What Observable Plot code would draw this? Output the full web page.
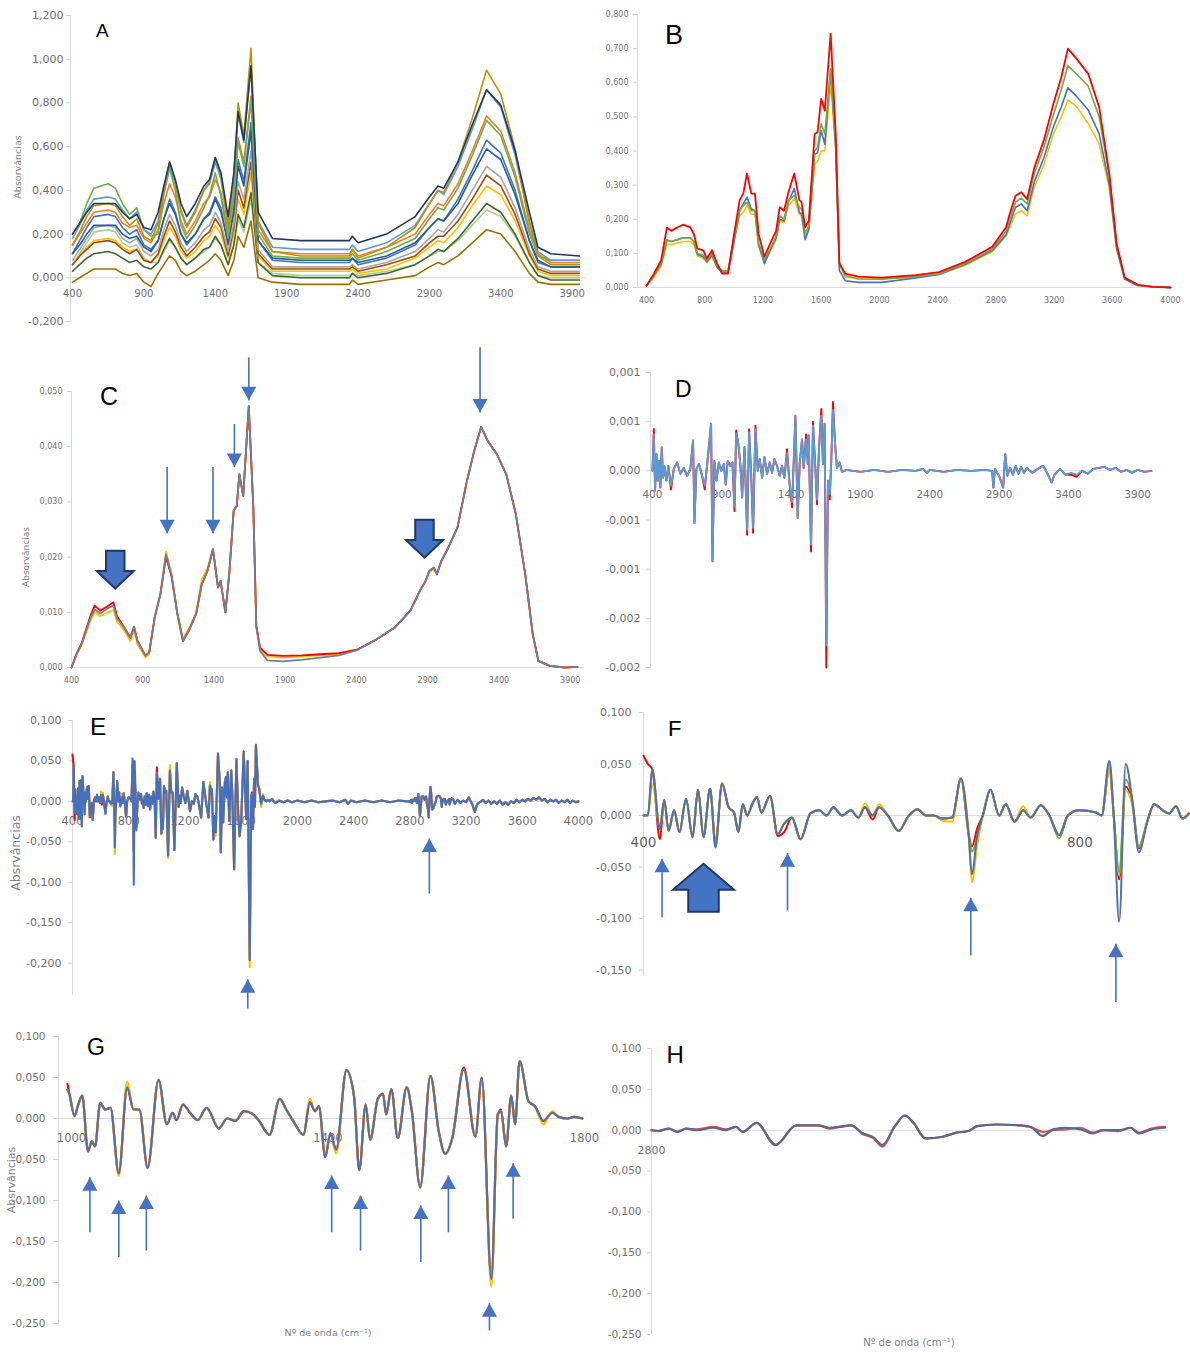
<!DOCTYPE html>
<html><head><meta charset="utf-8">
<script src="https://cdn.jsdelivr.net/npm/d3@7"></script>
<script src="https://cdn.jsdelivr.net/npm/@observablehq/plot@0.6"></script>
<style>
html,body{margin:0;padding:0;background:#fff;}
#root{position:relative;width:1190px;height:1353px;overflow:hidden;background:#fff;}
.panel{position:absolute;overflow:visible;}
.letter{position:absolute;font-family:"Liberation Sans",Arial,sans-serif;color:#000;line-height:1;white-space:nowrap;}
.title{position:absolute;font-family:"DejaVu Sans",sans-serif;color:#7f7f7f;white-space:nowrap;line-height:1;transform:translate(-50%,-50%);}
.title.rot{transform:translate(-50%,-50%) rotate(-90deg);}
</style></head><body><div id="root"></div>
<script>
// ---------------- Panel A : raw spectra ----------------
const aWn = [400,450,500,550,650,700,750,800,850,900,950,1000,1040,1080,1120,1160,1200,1260,1320,1360,1400,1440,1490,1530,1560,1600,1650,1700,1800,2000,2340,2360,2400,2600,2800,2900,2960,3000,3100,3200,3300,3400,3500,3600,3660,3750,3950];
const aS1 = [0.20,0.25,0.34,0.41,0.43,0.41,0.34,0.29,0.32,0.22,0.19, 0.20,0.38,0.50,0.40,0.24,0.18,0.24,0.32,0.38,0.48, 0.37,0.18,0.37,0.62,0.51,0.81,0.20,0.10,0.09,0.09, 0.11,0.08,0.12,0.18,0.27,0.32,0.31,0.41,0.56,0.72, 0.65,0.46,0.20,0.10,0.08,0.08];
const aS2 = [0.20,0.25,0.30,0.34,0.34,0.34,0.30,0.27,0.29,0.23,0.22, 0.30,0.42,0.53,0.45,0.34,0.28,0.34,0.42,0.45,0.55, 0.48,0.28,0.48,0.76,0.63,0.97,0.30,0.18,0.17,0.17, 0.19,0.16,0.20,0.28,0.37,0.42,0.41,0.53,0.70,0.86, 0.79,0.58,0.30,0.14,0.11,0.10];
const aS3 = [-0.02,0.00,0.02,0.04,0.04,0.04,0.02,0.01,0.02,-0.02,-0.04, 0.02,0.06,0.10,0.08,0.03,0.01,0.03,0.06,0.08,0.11, 0.08,0.01,0.08,0.19,0.14,0.26,0.00,-0.02,-0.03,-0.03, -0.01,-0.03,-0.01,0.01,0.05,0.07,0.06,0.10,0.16,0.22, 0.20,0.12,0.02,-0.02,-0.03,-0.03];
const aS4 = [0.03,0.06,0.09,0.11,0.12,0.11,0.09,0.07,0.08,0.05,0.04, 0.07,0.13,0.18,0.14,0.09,0.06,0.09,0.13,0.14,0.19, 0.15,0.06,0.15,0.29,0.23,0.39,0.07,0.01,0.00,0.00, 0.02,0.00,0.02,0.06,0.10,0.13,0.12,0.18,0.26,0.34, 0.30,0.20,0.07,0.01,-0.01,-0.01];
const aS5 = [0.06,0.10,0.14,0.17,0.18,0.17,0.14,0.12,0.13,0.08,0.07, 0.10,0.17,0.23,0.19,0.12,0.09,0.12,0.17,0.19,0.24, 0.20,0.09,0.20,0.36,0.29,0.48,0.10,0.03,0.03,0.03, 0.04,0.02,0.04,0.09,0.14,0.17,0.16,0.23,0.33,0.42, 0.38,0.26,0.10,0.03,0.01,0.01];
const aS6 = [0.11,0.17,0.23,0.28,0.29,0.28,0.23,0.20,0.22,0.15,0.13, 0.17,0.27,0.36,0.30,0.20,0.15,0.20,0.27,0.30,0.37, 0.32,0.15,0.32,0.54,0.44,0.71,0.17,0.08,0.07,0.07, 0.09,0.06,0.09,0.15,0.23,0.27,0.26,0.36,0.49,0.63, 0.57,0.40,0.17,0.07,0.05,0.05];
const aS7 = [0.15,0.20,0.25,0.30,0.31,0.30,0.25,0.23,0.24,0.18,0.16, 0.22,0.34,0.43,0.37,0.26,0.20,0.26,0.34,0.37,0.45, 0.39,0.20,0.39,0.64,0.53,0.83,0.22,0.12,0.11,0.11, 0.13,0.10,0.14,0.20,0.29,0.34,0.33,0.43,0.58,0.74, 0.67,0.48,0.22,0.11,0.07,0.07];
const aS8 = [0.08,0.13,0.18,0.23,0.24,0.23,0.18,0.16,0.18,0.12,0.10, 0.13,0.22,0.29,0.24,0.16,0.12,0.16,0.22,0.24,0.30, 0.25,0.12,0.25,0.44,0.36,0.58,0.13,0.05,0.05,0.05, 0.06,0.04,0.07,0.12,0.18,0.22,0.21,0.29,0.40,0.51, 0.46,0.32,0.13,0.05,0.03,0.03];
const aS9 = [0.18,0.24,0.31,0.36,0.37,0.36,0.31,0.27,0.30,0.22,0.20, 0.26,0.40,0.51,0.43,0.31,0.24,0.31,0.40,0.43,0.53, 0.45,0.24,0.45,0.75,0.62,0.97,0.26,0.14,0.13,0.13, 0.15,0.12,0.16,0.24,0.34,0.40,0.38,0.51,0.68,0.86, 0.78,0.56,0.26,0.12,0.08,0.08];
const aS10 = [0.06,0.10,0.13,0.16,0.17,0.16,0.13,0.11,0.13,0.08,0.07, 0.11,0.19,0.26,0.21,0.14,0.10,0.14,0.19,0.21,0.27, 0.23,0.10,0.23,0.40,0.32,0.53,0.11,0.04,0.04,0.04, 0.05,0.03,0.06,0.10,0.16,0.19,0.19,0.26,0.36,0.47, 0.42,0.29,0.11,0.04,0.02,0.02];
const aS11 = [0.15,0.21,0.28,0.33,0.34,0.33,0.28,0.24,0.27,0.19,0.17, 0.25,0.40,0.53,0.44,0.30,0.23,0.30,0.40,0.44,0.55, 0.47,0.23,0.47,0.80,0.65,1.05,0.25,0.12,0.10,0.10, 0.13,0.09,0.14,0.23,0.34,0.40,0.39,0.53,0.73,0.95, 0.84,0.59,0.25,0.10,0.06,0.06];
const aS12 = [0.11,0.15,0.20,0.24,0.24,0.24,0.20,0.18,0.19,0.14,0.12, 0.17,0.27,0.34,0.29,0.20,0.16,0.20,0.27,0.29,0.36, 0.30,0.16,0.30,0.51,0.42,0.67,0.17,0.09,0.08,0.08, 0.09,0.07,0.10,0.16,0.23,0.27,0.26,0.34,0.47,0.59, 0.54,0.38,0.17,0.08,0.05,0.05];
const aS13 = [0.06,0.11,0.16,0.21,0.22,0.21,0.16,0.14,0.15,0.09,0.07, 0.07,0.12,0.17,0.14,0.09,0.06,0.09,0.12,0.14,0.18, 0.15,0.06,0.15,0.27,0.21,0.36,0.07,0.02,0.01,0.01, 0.02,0.01,0.03,0.06,0.10,0.12,0.12,0.17,0.24,0.31, 0.28,0.19,0.07,0.01,0.00,0.00];
const aYTicks = [-0.2,0,0.2,0.4,0.6,0.8,1.0,1.2];
const aYLabels = ["-0,200","0,000","0,200","0,400","0,600","0,800","1,000","1,200"];
const aXTicks = [400,900,1400,1900,2400,2900,3400,3900];
const aXLabels = ["400","900","1400","1900","2400","2900","3400","3900"];

// ---------------- Panel B : mean spectra ----------------
const bWn = [400,450,500,540,570,610,650,700,725,750, 790,815,850,885,920,960,1000,1040,1065,1090, 1120,1145,1170,1210,1250,1290,1315,1345,1375,1415, 1450,1465,1490,1515,1555,1575,1600,1625,1665,1700, 1725,1765,1855,2015,2250,2410,2590,2775,2870,2895, 2935,2975,3015,3065,3130,3195,3250,3295,3355,3435, 3510,3580,3630,3685,3775,3880,4000];
const bRed = [0.005,0.040,0.079,0.175,0.166,0.176,0.184,0.176,0.157,0.114, 0.109,0.085,0.109,0.070,0.041,0.041,0.153,0.256,0.275,0.334, 0.275,0.275,0.157,0.090,0.129,0.166,0.235,0.225,0.279,0.334, 0.256,0.250,0.176,0.196,0.450,0.455,0.553,0.518,0.744,0.450, 0.070,0.041,0.032,0.029,0.036,0.045,0.075,0.119,0.176,0.215, 0.269,0.279,0.259,0.352,0.431,0.538,0.616,0.700,0.670,0.626, 0.528,0.332,0.127,0.029,0.008,0.002,0.000];
const bGreen = [0.005,0.035,0.070,0.140,0.135,0.140,0.145,0.145,0.135,0.100, 0.095,0.080,0.100,0.065,0.048,0.048,0.140,0.225,0.240,0.250, 0.225,0.225,0.130,0.080,0.115,0.150,0.210,0.200,0.255,0.270, 0.235,0.230,0.160,0.180,0.400,0.410,0.480,0.450,0.640,0.420, 0.075,0.035,0.025,0.024,0.032,0.040,0.070,0.112,0.165,0.200, 0.250,0.262,0.245,0.335,0.410,0.505,0.580,0.650,0.625,0.590, 0.500,0.325,0.127,0.029,0.008,0.002,0.000];
const bBlue = [0.005,0.035,0.068,0.138,0.135,0.140,0.146,0.146,0.135,0.097, 0.090,0.075,0.095,0.060,0.042,0.042,0.130,0.225,0.245,0.265, 0.230,0.225,0.125,0.070,0.110,0.145,0.200,0.195,0.250,0.290, 0.220,0.215,0.140,0.170,0.390,0.395,0.460,0.420,0.640,0.410, 0.050,0.020,0.015,0.015,0.028,0.038,0.068,0.108,0.155,0.185, 0.235,0.245,0.225,0.310,0.380,0.470,0.530,0.585,0.560,0.520, 0.450,0.300,0.115,0.025,0.006,0.002,0.000];
const bYellow = [0.005,0.030,0.062,0.128,0.125,0.130,0.135,0.135,0.125,0.092, 0.085,0.073,0.090,0.058,0.050,0.050,0.140,0.210,0.220,0.240, 0.215,0.215,0.120,0.075,0.105,0.140,0.195,0.190,0.240,0.260, 0.215,0.210,0.150,0.170,0.360,0.370,0.400,0.400,0.600,0.400, 0.070,0.030,0.027,0.026,0.030,0.038,0.065,0.105,0.150,0.175, 0.215,0.225,0.210,0.295,0.360,0.450,0.500,0.550,0.530,0.480, 0.420,0.290,0.110,0.025,0.006,0.002,0.000];
const bYTicks = [0,0.1,0.2,0.3,0.4,0.5,0.6,0.7,0.8];
const bYLabels = ["0,000","0,100","0,200","0,300","0,400","0,500","0,600","0,700","0,800"];
const bXTicks = [400,800,1200,1600,2000,2400,2800,3200,3600,4000];
const bXLabels = ["400","800","1200","1600","2000","2400","2800","3200","3600","4000"];

// ---------------- Panel C : normalised spectra ----------------
const cWn = [400,437,470,535,562,601,653,694,720,772, 813,839,863,919,945,984,1024,1063,1102,1143, 1182,1222,1275,1314,1354,1393,1428,1446,1480,1507, 1538,1560,1578,1605,1644,1676,1697,1723,1775,1882, 2013,2146,2277,2409,2541,2672,2778,2845,2885,2911, 2943,2964,2995,3044,3109,3175,3227,3275,3320,3386, 3451,3518,3584,3637,3676,3756,3861,3950];
const cMain = [0.0000,0.0025,0.0042,0.0091,0.0105,0.0098,0.0107,0.0112,0.0089,0.0071, 0.0054,0.0074,0.0048,0.0021,0.0027,0.0091,0.0133,0.0205,0.0167,0.0097, 0.0048,0.0066,0.0097,0.0150,0.0175,0.0215,0.0145,0.0157,0.0100,0.0169, 0.0284,0.0293,0.0350,0.0311,0.0474,0.0290,0.0073,0.0030,0.0013,0.0011, 0.0014,0.0018,0.0022,0.0032,0.0051,0.0073,0.0103,0.0139,0.0157,0.0175, 0.0181,0.0169,0.0193,0.0217,0.0254,0.0338,0.0393,0.0436,0.0411,0.0386, 0.0350,0.0278,0.0169,0.0060,0.0012,0.0003,0.0000,0.0001];
const cRed = [0.0000,0.0026,0.0043,0.0095,0.0112,0.0103,0.0111,0.0118,0.0093,0.0072, 0.0054,0.0074,0.0048,0.0022,0.0027,0.0091,0.0133,0.0200,0.0165,0.0097, 0.0048,0.0066,0.0097,0.0150,0.0175,0.0213,0.0145,0.0157,0.0100,0.0169, 0.0284,0.0293,0.0350,0.0311,0.0472,0.0290,0.0076,0.0036,0.0023,0.0021, 0.0022,0.0024,0.0026,0.0033,0.0051,0.0073,0.0103,0.0139,0.0157,0.0175, 0.0181,0.0169,0.0193,0.0217,0.0254,0.0338,0.0393,0.0436,0.0411,0.0386, 0.0350,0.0278,0.0169,0.0060,0.0012,0.0003,0.0000,0.0001];
const cYellow = [0.0000,0.0024,0.0040,0.0086,0.0100,0.0093,0.0100,0.0104,0.0083,0.0066, 0.0048,0.0068,0.0042,0.0018,0.0024,0.0091,0.0133,0.0210,0.0170,0.0100, 0.0052,0.0070,0.0100,0.0160,0.0180,0.0215,0.0145,0.0157,0.0100,0.0169, 0.0284,0.0293,0.0350,0.0311,0.0474,0.0290,0.0075,0.0033,0.0020,0.0018, 0.0020,0.0022,0.0024,0.0032,0.0051,0.0073,0.0103,0.0139,0.0155,0.0173, 0.0179,0.0168,0.0192,0.0217,0.0254,0.0338,0.0393,0.0436,0.0411,0.0386, 0.0350,0.0278,0.0169,0.0060,0.0012,0.0003,0.0000,0.0001];
const cYTicks = [0,0.01,0.02,0.03,0.04,0.05];
const cYLabels = ["0,000","0,010","0,020","0,030","0,040","0,050"];
const cXTicks = [400,900,1400,1900,2400,2900,3400,3900];
const cXLabels = ["400","900","1400","1900","2400","2900","3400","3900"];
const cArrowWn = [1071,1393,1543,1644,3267];
const cArrowTail = [0.0363,0.0363,0.0441,0.0562,0.0580];
const cArrowTip = [0.0243,0.0243,0.0363,0.0484,0.0462];
const cBlockWn = [707,2877];
const cBlockTip = [0.0143,0.0199];

// ---------------- Panel D : first derivative ----------------
const dWn = [400,410,419,429,438,448,457,467,477,486, 501,515,534,554,578,602,626,650,674,693, 703,717,736,758,777,794,823,833,847,862, 879,895,915,929,943,963,977,992,1004,1020, 1035,1047,1064,1083,1097,1112,1126,1143,1160,1174, 1191,1208,1227,1246,1263,1280,1299,1318,1335,1352, 1371,1390,1407,1419,1431,1448,1462,1479,1491,1508, 1520,1527,1544,1558,1575,1587,1602,1618,1630,1642, 1654,1666,1679,1690,1702,1719,1731,1750,1767,1800, 1900,2000,2100,2200,2300,2350,2380,2400,2500,2600, 2700,2800,2850,2860,2870,2900,2930,2945,2960,2980, 3000,3020,3040,3060,3080,3100,3140,3180,3220,3250, 3280,3300,3340,3380,3420,3460,3500,3540,3580,3620, 3660,3700,3740,3780,3820,3860,3900,3950,4000];
const dMain = [0,3.7e-4,-2.0e-4,1.7e-4,-1.0e-4,1.0e-4,-1.7e-4,2.4e-4,-0.7e-4,0.5e-4, -1.0e-4,0.5e-4,-1.5e-4,0.2e-4,0.85e-4,-0.3e-4,0.3e-4,-0.5e-4,0.2e-4,3.1e-4, -5.3e-4,0.2e-4,0.7e-4,-0.5e-4,-1.5e-4,0.5e-4,4.8e-4,-9.2e-4,1.0e-4,-1.0e-4, 0.85e-4,0,0.7e-4,-1.4e-4,1.0e-4,0.5e-4,0.85e-4,-3.6e-4,3.8e-4,2.7e-4, 0.5e-4,-2.7e-4,2.4e-4,-6.0e-4,3.9e-4,-0.3e-4,-5.8e-4,4.2e-4,0,1.2e-4, -0.7e-4,1.4e-4,-0.3e-4,0.85e-4,-0.2e-4,1.2e-4,0.5e-4,-0.5e-4,0.5e-4,-0.7e-4, 1.8e-4,-1.4e-4,-3.2e-4,0.85e-4,5.6e-4,-4.8e-4,0.7e-4,3.2e-4,0.3e-4,3.2e-4, 0.7e-4,3.6e-4,-7.5e-4,4.6e-4,0.3e-4,-2.9e-4,2.4e-4,5.6e-4,0.7e-4,4.8e-4, -17.7e-4,-1.0e-4,-2.4e-4,1.0e-4,6.2e-4,2.4e-4,0.3e-4,0.85e-4,-0.1e-4,0.1e-4, -0.1e-4,0.1e-4,-0.1e-4,0.1e-4,0,0.2e-4,-0.2e-4,0.1e-4,-0.1e-4,0.1e-4, 0,0.1e-4,0,-1.7e-4,0.2e-4,-0.5e-4,-1.7e-4,1.7e-4,-0.5e-4,0.3e-4, -0.4e-4,0.5e-4,-0.3e-4,0.4e-4,-0.2e-4,0.3e-4,-0.2e-4,0.2e-4,0.5e-4,-0.3e-4, -1.2e-4,-0.4e-4,0.2e-4,-0.4e-4,-0.2e-4,-0.4e-4,0,-0.3e-4,0.2e-4,0.3e-4, 0.4e-4,0.1e-4,0.3e-4,-0.1e-4,0.1e-4,-0.2e-4,0.1e-4,-0.1e-4,0];
const dRed = [0,4.25e-4,-2.0e-4,1.7e-4,-1.0e-4,1.0e-4,-1.7e-4,2.4e-4,-0.7e-4,0.5e-4, -1.0e-4,0.5e-4,-1.9e-4,0.2e-4,0.85e-4,-0.3e-4,0.3e-4,-0.5e-4,0.2e-4,3.1e-4, -5.3e-4,0.2e-4,0.7e-4,-0.5e-4,-1.9e-4,0.5e-4,4.8e-4,-9.2e-4,1.0e-4,-1.0e-4, 0.85e-4,0,0.7e-4,-1.4e-4,1.0e-4,0.5e-4,0.85e-4,-4.1e-4,4.1e-4,2.7e-4, 0.5e-4,-2.7e-4,2.4e-4,-6.5e-4,4.2e-4,-0.3e-4,-6.3e-4,4.6e-4,0,1.2e-4, -0.7e-4,1.4e-4,-0.3e-4,0.85e-4,-0.2e-4,1.2e-4,0.5e-4,-0.5e-4,0.5e-4,-0.7e-4, 2.2e-4,-1.4e-4,-3.7e-4,0.85e-4,5.6e-4,-4.8e-4,0.7e-4,3.2e-4,0.3e-4,3.7e-4, 0.7e-4,3.6e-4,-8.2e-4,5.0e-4,0.3e-4,-3.4e-4,2.4e-4,6.3e-4,0.7e-4,4.8e-4, -20e-4,-1.0e-4,-2.9e-4,1.0e-4,7.0e-4,2.4e-4,0.3e-4,0.85e-4,-0.1e-4,0.1e-4, -0.1e-4,0.1e-4,-0.1e-4,0.1e-4,0,0.2e-4,-0.2e-4,0.1e-4,-0.1e-4,0.1e-4, 0,0.1e-4,0,-1.7e-4,0.2e-4,-0.5e-4,-1.7e-4,1.7e-4,-0.5e-4,0.3e-4, -0.4e-4,0.5e-4,-0.3e-4,0.4e-4,-0.2e-4,0.3e-4,-0.2e-4,0.2e-4,0.5e-4,-0.3e-4, -1.2e-4,-0.4e-4,0.2e-4,-0.4e-4,-0.4e-4,-0.6e-4,0,-0.3e-4,0.2e-4,0.3e-4, 0.4e-4,0.1e-4,0.3e-4,-0.1e-4,0.1e-4,-0.2e-4,0.1e-4,-0.1e-4,0];
const dYTicks = [0.001,0.0005,0,-0.0005,-0.001,-0.0015,-0.002];
const dYLabels = ["0,001","0,001","0,000","-0,001","-0,001","-0,002","-0,002"];
const dXTicks = [400,900,1400,1900,2400,2900,3400,3900];
const dXLabels = ["400","900","1400","1900","2400","2900","3400","3900"];

// ---------------- Panel F : 2nd derivative, 400-900 ----------------
const fWn = [400,404,408,415,419,423,428,433,439,445, 450,455,461,466,472,478,483,487,491,495, 500,504,508,516,523,529,536,544,553,561, 568,574,582,590,597,603,610,616,624,634, 642,651,659,666,674,683,691,698,701,706, 711,718,726,732,740,748,755,764,772,781, 789,799,815,820,827,831,836,842,848,854, 862,868,876,882,888,894,900];
const fMain = [0,0,0.045,-0.013,0.015,-0.015,0.005,-0.016,0.016,-0.021, 0.025,-0.021,0.026,-0.031,0.031,0.008,0.003,-0.016,0.011,0, 0.012,0.018,0.003,0.019,-0.018,-0.008,-0.002,-0.023,0.002,0.005, 0,0.008,0,0.005,-0.002,0.008,0,0.008,0,-0.015, -0.002,0.006,0,0,-0.003,-0.002,0.036,-0.018,-0.057,-0.018, 0,0.025,0,0.011,-0.006,0.005,-0.002,0.010,0,-0.019, 0,0.005,0.003,0,0.053,0,-0.103,0.050,0.015,-0.036, -0.005,0.011,0.005,0.002,0.009,-0.003,0.002];
const fRed = [0.058,0.05,0.045,-0.023,0.015,-0.015,0.005,-0.016,0.016,-0.021, 0.025,-0.021,0.026,-0.026,0.031,0.008,0.003,-0.016,0.011,0, 0.012,0.018,0.003,0.019,-0.020,-0.016,-0.002,-0.023,0.002,0.005, 0,0.008,0,0.005,-0.002,0.008,-0.004,0.008,0,-0.015, -0.002,0.006,0,0,-0.003,-0.002,0.036,-0.018,-0.030,-0.012, 0,0.025,0,0.011,-0.006,0.005,-0.002,0.010,0,-0.019, 0,0.005,0.003,0,0.045,0,-0.062,0.028,0.012,-0.032, -0.005,0.011,0.005,0.002,0.009,-0.003,0.002];
const fYellow = [0,0,0.030,-0.010,0.015,-0.015,0.005,-0.016,0.016,-0.021, 0.025,-0.021,0.026,-0.031,0.031,0.008,0.003,-0.016,0.011,0, 0.012,0.018,0.003,0.019,-0.018,-0.008,-0.002,-0.023,0.002,0.005, 0,0.008,0,0.005,-0.002,0.012,0,0.011,0,-0.015, -0.002,0.006,0,0,-0.005,-0.006,0.036,-0.018,-0.065,-0.028, 0,0.025,0,0.011,-0.006,0.009,-0.002,0.010,0,-0.019, 0,0.005,0.003,0,0.045,0,-0.058,0.024,0.010,-0.030, -0.005,0.011,0.005,0.002,0.009,-0.003,0.002];
const fGreen = [0,0,0.045,-0.013,0.015,-0.015,0.005,-0.016,0.016,-0.021, 0.025,-0.021,0.026,-0.028,0.031,0.008,0.003,-0.016,0.011,0, 0.012,0.018,0.003,0.019,-0.018,-0.008,-0.002,-0.023,0.002,0.005, 0,0.008,0,0.005,-0.002,0.008,0,0.008,0,-0.015, -0.002,0.006,0,0,-0.003,-0.002,0.036,-0.018,-0.035,-0.020, 0,0.025,0,0.011,-0.006,0.005,-0.002,0.010,0,-0.022, 0,0.005,0.003,0,0.053,0,-0.055,0.035,0.015,-0.030, -0.005,0.011,0.005,0.002,0.009,-0.003,0.002];
const fYTicks = [0.1,0.05,0,-0.05,-0.1,-0.15];
const fYLabels = ["0,100","0,050","0,000","-0,050","-0,100","-0,150"];
const fXTicks = [400,800];
const fXLabels = ["400","800"];
const fArrowWn = [417,532,700,833];
const fArrowTip = [-0.042,-0.0366,-0.0799,-0.1246];
const fArrowTail = [-0.0987,-0.0922,-0.136,-0.181];
const fBlockWn = [455];
const fBlockTip = [-0.0469];

// ---------------- Panel G : 2nd derivative, 1000-1800 ----------------
const gWn = [1000,1003,1011,1016,1023,1032,1038,1043,1051,1059, 1067,1080,1093,1103,1112,1125,1142,1155,1164,1170, 1180,1191,1203,1217,1236,1249,1262,1275,1288,1299, 1315,1331,1341,1352,1368,1378,1386,1392,1402,1410, 1419,1435,1447,1455,1465,1472,1484,1492,1497,1505, 1515,1529,1537,1550,1566,1579,1589,1600,1618,1636, 1646,1661,1671,1676,1684,1692,1698,1705,1719,1729, 1742,1756,1766,1779,1790,1803];
const gMain = [0.035,0.030,0.003,0.015,0.028,-0.040,-0.028,-0.034,0.019,0.011, 0.013,-0.067,0.038,0.011,0.011,-0.060,0.047,-0.007,0.007,-0.002, 0.017,0.007,-0.002,0.013,-0.012,0,-0.003,0.009,0.006,-0.003, -0.020,0.024,0.011,-0.003,-0.020,0.020,0.009,0.015,-0.047,-0.018, -0.038,0.059,0.026,-0.063,0.017,-0.026,0.024,0.030,0.005,0.036, -0.024,0.038,0.009,-0.084,0.052,-0.016,-0.043,-0.024,0.060,-0.022, 0.050,-0.196,0.005,0.009,-0.034,0.028,-0.007,0.070,0.021,0.015, -0.003,0.007,0.002,0,0.002,0];
const gYellow = [0.035,0.030,0.003,0.015,0.028,-0.040,-0.028,-0.034,0.019,0.011, 0.013,-0.070,0.045,0.011,0.011,-0.060,0.047,-0.007,0.007,-0.002, 0.017,0.007,-0.002,0.013,-0.012,0,-0.003,0.009,0.006,-0.003, -0.020,0.024,0.011,-0.003,-0.020,0.024,0.009,0.015,-0.045,-0.018, -0.043,0.059,0.026,-0.063,0.017,-0.026,0.024,0.030,0.005,0.036, -0.024,0.038,0.009,-0.084,0.052,-0.016,-0.043,-0.024,0.060,-0.022, 0.050,-0.205,0.005,0.009,-0.034,0.028,-0.007,0.070,0.021,0.015, -0.007,0.009,0.002,0,0.002,0];
const gRed = [0.042,0.030,0.003,0.015,0.028,-0.040,-0.028,-0.034,0.019,0.011, 0.013,-0.067,0.038,0.011,0.011,-0.060,0.047,-0.007,0.007,-0.002, 0.017,0.007,-0.002,0.013,-0.012,0,-0.003,0.009,0.006,-0.003, -0.020,0.024,0.011,-0.003,-0.020,0.020,0.009,0.015,-0.047,-0.018, -0.038,0.059,0.026,-0.063,0.017,-0.026,0.024,0.030,0.005,0.036, -0.024,0.038,0.009,-0.084,0.052,-0.016,-0.043,-0.024,0.062,-0.022, 0.050,-0.196,0.005,0.011,-0.034,0.028,-0.007,0.070,0.021,0.015, -0.003,0.007,0.002,0,0.002,0];
const gYTicks = [0.1,0.05,0,-0.05,-0.1,-0.15,-0.2,-0.25];
const gYLabels = ["0,100","0,050","0,000","-0,050","-0,100","-0,150","-0,200","-0,250"];
const gXTicks = [1000,1400,1800];
const gXLabels = ["1000","1400","1800"];
const gArrowWn = [1035,1080,1123,1412,1457,1551,1594,1695,1658];
const gArrowTip = [-0.0716,-0.100,-0.0939,-0.0695,-0.0939,-0.106,-0.0695,-0.0545,-0.2252];
const gArrowTail = [-0.1387,-0.169,-0.161,-0.1387,-0.161,-0.175,-0.1387,-0.1224,-0.2585];

// ---------------- Panel H : 2nd derivative, 2800-3100 ----------------
const hWn = [2800,2804,2810,2815,2820,2826,2836,2843,2849,2853, 2861,2872,2884,2897,2903,2909,2916,2922,2929,2934, 2941,2947,2952,2959,2969,2977,2984,2989,3000,3013, 3020,3027,3033,3040,3049,3056,3062,3071,3078,3083, 3090,3098];
const hMain = [0,-0.001,0.002,-0.002,0.002,0,0.003,0,0.004,-0.002, 0.009,-0.018,0.006,0.006,0.003,0.004,0.006,-0.003,-0.009,-0.018, 0.004,0.018,0.009,-0.010,-0.008,-0.003,-0.001,0.005,0.007,0.006, 0.004,-0.007,0.001,0.003,0.001,-0.004,0,0,0.003,-0.004, 0.001,0.003];
const hRed = [0,-0.001,0.002,-0.002,0.002,0.001,0.004,0.001,0.004,-0.002, 0.009,-0.018,0.006,0.006,0.002,0.004,0.006,-0.004,-0.010,-0.020, 0.004,0.018,0.009,-0.010,-0.008,-0.003,-0.001,0.005,0.007,0.006, 0.004,-0.002,0.000,0.001,0.003,-0.003,0,-0.001,0.003,-0.003, 0.002,0.004];
const hYTicks = gYTicks;
const hYLabels = gYLabels;
const hXTicks = [2800];
const hXLabels = ["2800"];

// ---------------- Panel E : 2nd derivative, full range ----------------
const eBridgeWn = [906,913,920,928,936,944,952,960,968,976,984,992];
const eBridge = [-0.008,0.006,-0.004,0.010,-0.006,0.008,-0.010,0.006,-0.003,0.012,0.004,-0.045];
const eFlatWn = [1820,1840,1870,1900,1930,1960,2000,2050,2100,2150,2200,2250,2300,2340,2360,2380,2420,2480,2540,2600,2660,2720,2780];
const eFlat = [0.003,-0.002,0.001,-0.001,0.001,-0.001,0.001,-0.001,0.001,-0.001,0.000,0.001,-0.001,0.002,-0.003,0.001,-0.001,0.001,-0.001,0.001,-0.001,0.001,0.000];
const eTailWn = [3110,3120,3140,3160,3180,3200,3220,3245,3262,3280, 3300,3320,3340,3360,3380,3400,3420,3440,3460,3480, 3500,3520,3540,3560,3580,3600,3620,3640,3660,3680, 3700,3720,3740,3760,3780,3800,3820,3840,3860,3880, 3900,3920,3940,3960,3980,4000];
const eTail = [0.002,-0.003,0.002,-0.002,0.001,-0.001,0.005,-0.004,-0.013,-0.003, -0.001,0.002,-0.002,0.001,-0.003,0.000,-0.003,0.001,-0.004,-0.001, -0.004,0.000,-0.002,0.002,-0.001,0.002,0.000,0.003,0.001,0.004, 0.002,0.005,0.001,0.003,-0.001,0.002,0.000,0.002,-0.002,0.001, -0.001,0.002,-0.002,0.001,-0.001,0.000];
const eWn = [...fWn, ...eBridgeWn, ...gWn, ...eFlatWn, ...hWn, ...eTailWn];
const eMain = [...fMain, ...eBridge, ...gMain, ...eFlat, ...hMain, ...eTail];
const eYellow = [...fYellow, ...eBridge, ...gYellow, ...eFlat, ...hMain, ...eTail];
const eRed = [...fRed, ...eBridge, ...gRed, ...eFlat, ...hRed, ...eTail];
const eYTicks = [0.1,0.05,0,-0.05,-0.1,-0.15,-0.2];
const eYLabels = ["0,100","0,050","0,000","-0,050","-0,100","-0,150","-0,200"];
const eXTicks = [400,800,1200,1600,2000,2400,2800,3200,3600,4000];
const eXLabels = ["400","800","1200","1600","2000","2400","2800","3200","3600","4000"];
const eArrowWn = [1647,2939];
const eArrowTip = [-0.220,-0.046];
const eArrowTail = [-0.256,-0.114];

// ---------------- helpers ----------------
const ARROW = "#4472c4";
const RED = "#ff0000", YEL = "#ffc000", GRN = "#70ad47", BLU = "#4472c4";
function tri(s) { return {draw(ctx, size) { const r = Math.sqrt(size / Math.PI); ctx.moveTo(0, 0); ctx.lineTo(r, s * 1.8 * r); ctx.lineTo(-r, s * 1.8 * r); ctx.closePath(); }}; }
function block(s, hh, sw, sl) { return {draw(ctx, size) { const r = Math.sqrt(size / Math.PI);
  ctx.moveTo(0, 0); ctx.lineTo(r, s*hh*r); ctx.lineTo(sw*r, s*hh*r); ctx.lineTo(sw*r, s*(hh+sl)*r);
  ctx.lineTo(-sw*r, s*(hh+sl)*r); ctx.lineTo(-sw*r, s*hh*r); ctx.lineTo(-r, s*hh*r); ctx.closePath(); }}; }
const headUp = tri(1), headDown = tri(-1);
const fmtMap = (ticks, labels) => { const m = new Map(ticks.map((t, i) => [t, labels[i]])); return d => m.get(d) ?? ""; };
const pts = (wn, vals) => wn.map((w, i) => ({wn: w, v: vals[i]}));

function thinArrows(wn, tail, tip, dir) {
  const data = wn.map((w, i) => ({wn: w, tail: tail[i], tip: tip[i]}));
  return [
    Plot.link(data, {x1: "wn", y1: "tail", x2: "wn", y2: "tip", stroke: ARROW, strokeWidth: 1.6}),
    Plot.dot(data, {x: "wn", y: "tip", symbol: dir === "up" ? headUp : headDown, r: 7.5, fill: ARROW, stroke: "none"})
  ];
}
function blockArrows(wn, tip, sym, r) {
  const data = wn.map((w, i) => ({wn: w, tip: tip[i]}));
  return [Plot.dot(data, {x: "wn", y: "tip", symbol: sym, r, fill: ARROW, stroke: "#1f3864", strokeWidth: 2, strokeLinejoin: "miter"})];
}

function buildPanel(c) {
  const marks = [
    Plot.ruleY([0], {stroke: "#d9d9d9", strokeWidth: 1}),
    Plot.ruleX([c.xDomain[0]], {stroke: "#d9d9d9", strokeWidth: 1}),
    Plot.axisY(c.yTicks, {anchor: "left", tickSize: c.tickSize ?? 4, tickPadding: c.yPad, stroke: "#d0d0d0", fill: "#707070", fontSize: c.yFont, tickFormat: fmtMap(c.yTicks, c.yLabels), label: null}),
    Plot.text(c.xTicks, {x: d => d, y: () => 0, dy: c.xDy, dx: c.xDx ?? 0, text: fmtMap(c.xTicks, c.xLabels), fill: c.xColor ?? "#707070", fontSize: c.xFont})
  ];
  for (const s of c.series) {
    marks.push(Plot.line(pts(s.wn ?? c.wn, s.values), {x: "wn", y: "v", stroke: s.color, strokeWidth: s.width ?? c.lineWidth, curve: c.curve ?? "linear", strokeLinejoin: "round"}));
  }
  if (c.extra) marks.push(...c.extra);
  return Plot.plot({
    width: c.width, height: c.height,
    marginLeft: c.mL, marginRight: c.mR, marginTop: c.mT, marginBottom: c.mB,
    x: {domain: c.xDomain, axis: null},
    y: {domain: c.yDomain, axis: null},
    style: {fontFamily: "'DejaVu Sans', sans-serif", color: "#707070", background: "transparent", overflow: "visible"},
    marks
  });
}

const panels = [
  {left: 0, top: 0, width: 590, height: 335, mL: 70, mR: 4, mT: 15, mB: 14, xDomain: [386, 4000], yDomain: [-0.2, 1.2],
   yTicks: aYTicks, yLabels: aYLabels, yFont: 11, yPad: 3, xTicks: aXTicks, xLabels: aXLabels, xFont: 10, xDy: 16, lineWidth: 1.6, wn: aWn,
   series: [
     {values: aS13, color: "#a9d18e"}, {values: aS3, color: "#997300"}, {values: aS4, color: "#43682b"},
     {values: aS5, color: "#ffc000"}, {values: aS10, color: "#9e480e"}, {values: aS8, color: "#a5a5a5"},
     {values: aS6, color: "#4472c4"}, {values: aS12, color: "#255e91"}, {values: aS7, color: "#ed7d31"},
     {values: aS1, color: "#70ad47"}, {values: aS9, color: "#5b9bd5"}, {values: aS11, color: "#bf9000"},
     {values: aS2, color: "#203864"}]},
  {left: 590, top: 0, width: 600, height: 320, mL: 47, mR: 20, mT: 14, mB: 33, xDomain: [338, 4000], yDomain: [0, 0.8],
   yTicks: bYTicks, yLabels: bYLabels, yFont: 8, yPad: 5, xTicks: bXTicks, xLabels: bXLabels, xFont: 8, xDy: 13, lineWidth: 1.6, wn: bWn,
   series: [{values: bYellow, color: YEL}, {values: bBlue, color: BLU}, {values: bGreen, color: GRN}, {values: bRed, color: RED, width: 1.8}]},
  {left: 0, top: 340, width: 590, height: 350, mL: 71, mR: 6, mT: 51, mB: 23, xDomain: [400, 4000], yDomain: [0, 0.05],
   yTicks: cYTicks, yLabels: cYLabels, yFont: 8, yPad: 5, xTicks: cXTicks, xLabels: cXLabels, xFont: 8, xDy: 13, lineWidth: 1.8, wn: cWn,
   series: [{values: cYellow, color: YEL}, {values: cRed, color: RED}, {values: cMain, color: "#6f7f96"}],
   extra: [...thinArrows(cArrowWn, cArrowTail, cArrowTip, "down"), ...blockArrows(cBlockWn, cBlockTip, block(-1, 0.95, 0.5, 1.1), 18.5)]},
  {left: 590, top: 340, width: 600, height: 350, mL: 60, mR: 39, mT: 32, mB: 23, xDomain: [386, 4000], yDomain: [-0.002, 0.001],
   yTicks: dYTicks, yLabels: dYLabels, yFont: 11, yPad: 6, xTicks: dXTicks, xLabels: dXLabels, xFont: 10.5, xDy: 24, lineWidth: 1.9, wn: dWn,
   series: [{values: dRed, color: RED}, {values: dMain, color: "#5b9bd5"}]},
  {left: 0, top: 700, width: 590, height: 320, mL: 72, mR: 12, mT: 20, mB: 25, xDomain: [400, 4000], yDomain: [-0.24, 0.1],
   yTicks: eYTicks, yLabels: eYLabels, yFont: 11, yPad: 7, xTicks: eXTicks, xLabels: eXLabels, xFont: 11.5, xDy: 20, lineWidth: 2.1, wn: eWn,
   series: [{values: eRed, color: RED}, {values: eYellow, color: YEL}, {values: eMain, color: "#4470bd"}],
   extra: thinArrows(eArrowWn, eArrowTail, eArrowTip, "up")},
  {left: 590, top: 700, width: 600, height: 320, mL: 53, mR: 1.5, mT: 12, mB: 45.35, xDomain: [400, 900], yDomain: [-0.155, 0.1],
   yTicks: fYTicks, yLabels: fYLabels, yFont: 11, yPad: 8, xTicks: fXTicks, xLabels: fXLabels, xFont: 13.5, xDy: 27, xColor: "#606060", lineWidth: 2, curve: "monotone-x", wn: fWn,
   series: [{values: fRed, color: RED}, {values: fYellow, color: YEL}, {values: fGreen, color: GRN}, {values: fMain, color: "#5470a8"}],
   extra: [...thinArrows(fArrowWn, fArrowTail, fArrowTip, "up"), ...blockArrows(fBlockWn, fBlockTip, block(1, 0.85, 0.5, 0.72), 30.5)]},
  {left: 0, top: 1020, width: 590, height: 333, mL: 58, mR: 10, mT: 16, mB: 30, xDomain: [986, 1800], yDomain: [-0.25, 0.1],
   yTicks: gYTicks, yLabels: gYLabels, yFont: 10.5, yPad: 8, tickSize: 5, xTicks: gXTicks, xLabels: gXLabels, xFont: 11.5, xDy: 20, xDx: 4, lineWidth: 2.2, curve: "monotone-x", wn: gWn,
   series: [{values: gRed, color: RED}, {values: gYellow, color: YEL}, {values: gMain, color: "#5a6e9c"}],
   extra: thinArrows(gArrowWn, gArrowTail, gArrowTip, "up")},
  {left: 590, top: 1020, width: 600, height: 333, mL: 61, mR: 22, mT: 28, mB: 19, xDomain: [2800, 3100], yDomain: [-0.25, 0.1],
   yTicks: hYTicks, yLabels: hYLabels, yFont: 10.5, yPad: 6, xTicks: hXTicks, xLabels: hXLabels, xFont: 11, xDy: 20, lineWidth: 2.2, curve: "monotone-x", wn: hWn,
   series: [{values: hRed, color: "#e05050"}, {values: hMain, color: "#58698a"}]}
];

const root = document.getElementById("root");
for (const c of panels) {
  const div = document.createElement("div");
  div.className = "panel";
  div.style.left = c.left + "px"; div.style.top = c.top + "px";
  div.appendChild(buildPanel(c));
  root.appendChild(div);
}

// panel letters
const letters = [
  ["A", 96, 20.6, 19], ["B", 665, 22.1, 27], ["C", 100, 383.8, 25], ["D", 675, 377.5, 23],
  ["E", 90, 715.3, 24.5], ["F", 668, 718.4, 22], ["G", 87, 1035.5, 23], ["H", 666.5, 1042.7, 24]
];
for (const [t, x, y, s] of letters) {
  const el = document.createElement("div");
  el.className = "letter"; el.textContent = t;
  el.style.left = x + "px"; el.style.top = y + "px"; el.style.fontSize = s + "px";
  root.appendChild(el);
}
// axis titles
const titles = [
  ["Absorvâncias", 18, 167, 9.5, true], ["Absorvâncias", 26, 557, 9, true],
  ["Absrvâncias", 16, 853, 12.5, true], ["Absrvâncias", 11, 1180, 11, true],
  ["Nº de onda (cm⁻¹)", 328, 1333, 9.5, false], ["Nº de onda (cm⁻¹)", 909, 1343, 10, false]
];
for (const [t, x, y, s, rot] of titles) {
  const el = document.createElement("div");
  el.className = "title" + (rot ? " rot" : ""); el.textContent = t;
  el.style.left = x + "px"; el.style.top = y + "px"; el.style.fontSize = s + "px";
  root.appendChild(el);
}
</script></body></html>
